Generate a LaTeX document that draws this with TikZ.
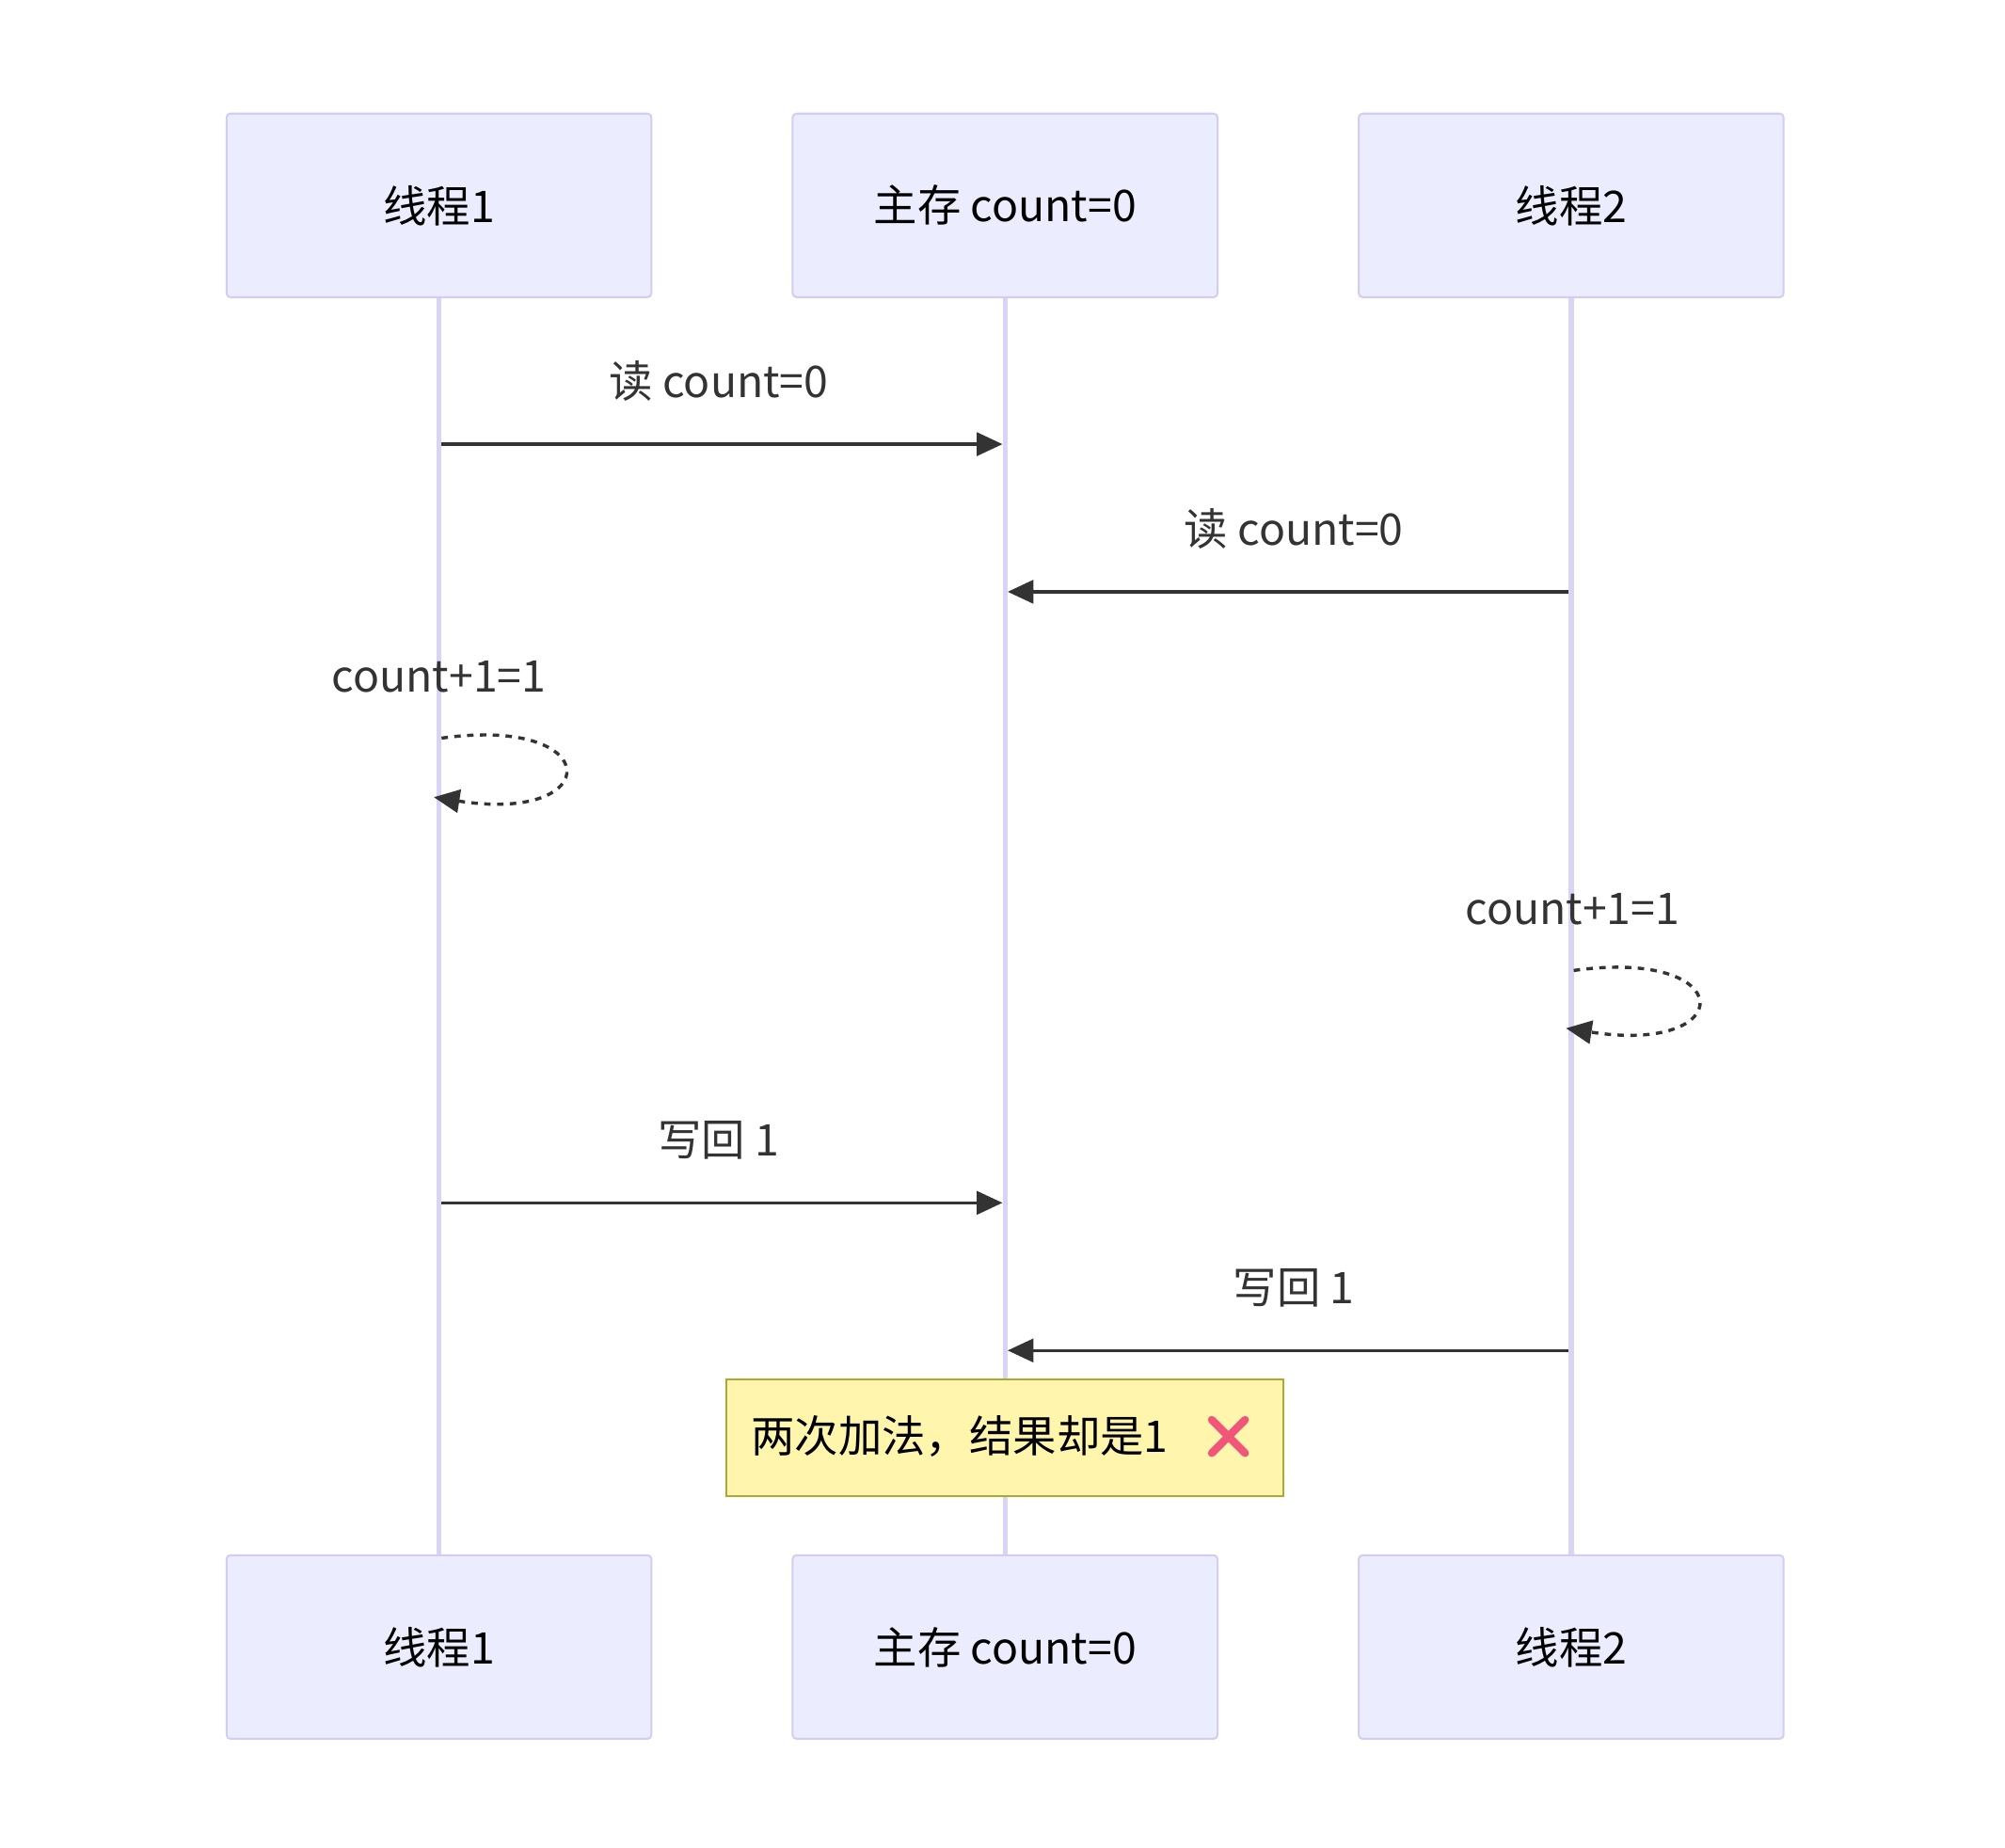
\documentclass[tikz,border=0pt]{standalone}
\usepackage{fontspec}
\setmainfont{Noto Sans CJK SC}
\usetikzlibrary{arrows.meta,calc}
\definecolor{boxfill}{HTML}{ECECFF}
\definecolor{boxline}{HTML}{D3CDF2}
\definecolor{life}{HTML}{DAD3F5}
\definecolor{ink}{HTML}{333333}
\definecolor{notefill}{HTML}{FFF5AD}
\definecolor{noteline}{HTML}{AAAA33}
\definecolor{xred}{HTML}{F2557A}
\begin{document}
\begin{tikzpicture}[x=1pt,y=-1pt,
 actor/.style={draw=boxline,fill=boxfill,line width=1.5pt,rounded corners=3pt,minimum width=331pt,minimum height=143pt,font=\fontsize{34}{40}\selectfont},
 life/.style={draw=life,line width=4pt},
 msg/.style={draw=ink,line width=2.5pt,-{Triangle[length=20pt,width=18pt]}},
 loop/.style={draw=ink,line width=2.5pt,dash pattern=on 5pt off 5pt,-{Triangle[length=20pt,width=18pt]}},
 lbl/.style={text=ink,font=\fontsize{34}{40}\selectfont}]
\useasboundingbox (0,0) rectangle (1562,1439);
\coordinate (a1) at (342,231); \coordinate (b1) at (342,1212);
\coordinate (a2) at (783,231); \coordinate (b2) at (783,1212);
\coordinate (a3) at (1224,231); \coordinate (b3) at (1224,1212);
\draw[life] (a1)--(b1); \draw[life] (a2)--(b2); \draw[life] (a3)--(b3);
\node[actor] (t1) at (342,160) {线程1};
\node[actor] (m) at (783,160) {主存 count=0};
\node[actor] (t2) at (1224,160) {线程2};
\node[actor] (t1b) at (342,1283) {线程1};
\node[actor] (mb) at (783,1283) {主存 count=0};
\node[actor] (t2b) at (1224,1283) {线程2};
% messages
\coordinate (p1) at (344,346); \coordinate (q1) at (781,346);
\draw[msg] (p1)--(q1); \node[lbl] (l1) at (560,297) {读 count=0};
\coordinate (p2) at (1222,461); \coordinate (q2) at (785,461);
\draw[msg] (p2)--(q2); \node[lbl] (l2) at (1008,412) {读 count=0};
\coordinate (s1) at (344,575); \coordinate (e1) at (338,621);
\draw[loop] (s1) .. controls (472,557) and (472,642) .. (e1);
\node[lbl] (l3) at (342,527) {count+1=1};
\coordinate (s2) at (1226,756); \coordinate (e2) at (1220,801);
\draw[loop] (s2) .. controls (1355,738) and (1355,822) .. (e2);
\node[lbl] (l4) at (1225,708) {count+1=1};
\coordinate (p3) at (344,937); \coordinate (q3) at (781,937);
\draw[msg] (p3)--(q3); \node[lbl] (l5) at (560,888) {写回 1};
\coordinate (p4) at (1222,1052); \coordinate (q4) at (785,1052);
\draw[msg] (p4)--(q4); \node[lbl] (l6) at (1008,1003) {写回 1};
% note
\node[draw=noteline,fill=notefill,line width=1.5pt,minimum width=434pt,minimum height=91pt] (note) at (783,1120) {};
\node[font=\fontsize{34}{40}\selectfont,anchor=west,inner sep=0pt] (nt) at (585,1119) {两次加法，结果却是1};
\coordinate (xc) at (957,1119);
\draw[xred,line width=6pt,line cap=round] ($(xc)+(-13,-13)$)--($(xc)+(13,13)$) ($(xc)+(-13,13)$)--($(xc)+(13,-13)$);
\end{tikzpicture}
\end{document}
